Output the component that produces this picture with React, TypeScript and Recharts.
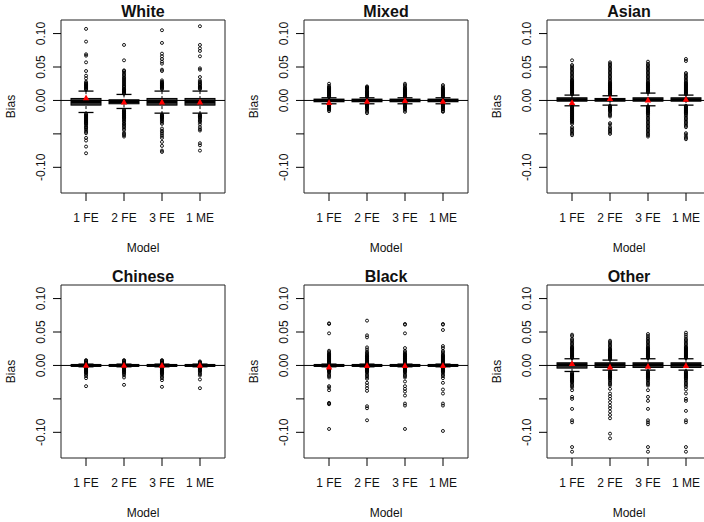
import React from 'react';
import { ComposedChart, Bar, Scatter, XAxis, YAxis, ReferenceLine, ReferenceArea } from 'recharts';

const models = ['1 FE', '2 FE', '3 FE', '1 ME'];
const yTicks = [-0.1, -0.05, 0, 0.05, 0.1];
const yDomain: [number, number] = [-0.1384, 0.1203];
const xDomain: [number, number] = [0.34, 4.66];

// each box: [lower whisker, q1, median, q3, upper whisker]
const whiteBoxes = [
  [-0.018, -0.007, -0.002, 0.003, 0.014],
  [-0.012, -0.005, -0.002, 0.001, 0.009],
  [-0.019, -0.007, -0.002, 0.003, 0.014],
  [-0.019, -0.007, -0.002, 0.003, 0.014],
];
const whiteMeans = [0.004, -0.002, -0.002, -0.002];
const whiteOut = [
  [0.107, 0.088, 0.069, 0.067, 0.057, 0.044, 0.037, 0.033, 0.028, 0.026, 0.025, 0.024, 0.023, 0.022, 0.021, 0.020, 0.019, 0.018, 0.017, 0.016,
   -0.020, -0.021, -0.022, -0.023, -0.024, -0.025, -0.026, -0.027, -0.028, -0.029, -0.030, -0.031, -0.032, -0.033, -0.034, -0.035, -0.036,
   -0.038, -0.040, -0.041, -0.043, -0.045, -0.047, -0.049, -0.056, -0.060, -0.069, -0.079],
  [0.083, 0.060, 0.045, 0.044, 0.042, 0.040, 0.038, 0.036, 0.034, 0.033, 0.031, 0.030, 0.028, 0.027, 0.025, 0.024, 0.022, 0.021, 0.020,
   0.018, 0.017, 0.016, 0.015, 0.014, 0.013, 0.012, 0.011, 0.010,
   -0.014, -0.015, -0.016, -0.017, -0.018, -0.019, -0.020, -0.021, -0.022, -0.023, -0.024, -0.025, -0.026, -0.027, -0.028, -0.030,
   -0.031, -0.033, -0.035, -0.036, -0.038, -0.040, -0.042, -0.044, -0.048, -0.050, -0.052, -0.054],
  [0.105, 0.086, 0.070, 0.066, 0.062, 0.058, 0.055, 0.046, 0.044, 0.030, 0.028, 0.027, 0.026, 0.025, 0.024, 0.023, 0.022, 0.021, 0.020,
   0.019, 0.018, 0.017,
   -0.021, -0.022, -0.023, -0.024, -0.025, -0.026, -0.027, -0.028, -0.030, -0.031, -0.033, -0.035, -0.042, -0.045, -0.047, -0.050,
   -0.053, -0.056, -0.062, -0.068, -0.075, -0.077],
  [0.111, 0.083, 0.078, 0.074, 0.066, 0.048, 0.046, 0.035, 0.030, 0.028, 0.027, 0.025, 0.024, 0.023, 0.021, 0.020, 0.019, 0.018, 0.017,
   -0.021, -0.022, -0.023, -0.024, -0.025, -0.026, -0.028, -0.030, -0.031, -0.033, -0.036, -0.040, -0.043, -0.045, -0.064, -0.067, -0.075],
];

const mixedBoxes = [
  [-0.005, -0.002, 0.0, 0.002, 0.004],
  [-0.005, -0.002, 0.0, 0.002, 0.004],
  [-0.005, -0.002, 0.0, 0.002, 0.004],
  [-0.005, -0.002, 0.0, 0.002, 0.004],
];
const mixedMeans = [-0.003, -0.001, 0.0, -0.001];
const mixedOut = [
  [0.025, 0.022, 0.020, 0.019, 0.018, 0.017, 0.016, 0.015, 0.014, 0.013, 0.012, 0.011, 0.010, 0.009, 0.008, 0.007, 0.006, 0.005,
   -0.006, -0.007, -0.008, -0.009, -0.010, -0.011, -0.012, -0.013, -0.014, -0.016],
  [0.021, 0.020, 0.019, 0.018, 0.017, 0.015, 0.014, 0.013, 0.012, 0.011, 0.010, 0.009, 0.008, 0.007, 0.006, 0.005,
   -0.006, -0.007, -0.008, -0.009, -0.010, -0.011, -0.012, -0.013, -0.015, -0.017, -0.019],
  [0.025, 0.023, 0.021, 0.019, 0.018, 0.017, 0.016, 0.015, 0.014, 0.013, 0.012, 0.011, 0.010, 0.009, 0.008, 0.007, 0.006, 0.005,
   -0.006, -0.007, -0.008, -0.009, -0.010, -0.011, -0.012, -0.013, -0.015, -0.017],
  [0.023, 0.021, 0.019, 0.018, 0.017, 0.016, 0.015, 0.014, 0.013, 0.012, 0.011, 0.010, 0.009, 0.008, 0.007, 0.006, 0.005,
   -0.006, -0.007, -0.008, -0.009, -0.010, -0.011, -0.012, -0.013, -0.014, -0.016, -0.017],
];

const asianBoxes = [
  [-0.008, -0.001, 0.001, 0.004, 0.008],
  [-0.007, -0.001, 0.001, 0.003, 0.007],
  [-0.008, -0.001, 0.001, 0.004, 0.011],
  [-0.007, -0.001, 0.001, 0.004, 0.008],
];
const asianMeans = [-0.003, 0.003, 0.001, 0.002];
const asianOut = [
  [0.060, 0.053, 0.051, 0.049, 0.047, 0.045, 0.043, 0.041, 0.039, 0.037, 0.035, 0.033, 0.031, 0.030, 0.029, 0.028, 0.027, 0.026, 0.025,
   0.024, 0.023, 0.022, 0.021, 0.020, 0.019, 0.018, 0.017, 0.016, 0.015, 0.014, 0.013, 0.012, 0.011, 0.010, 0.009,
   -0.009, -0.010, -0.011, -0.012, -0.013, -0.014, -0.015, -0.016, -0.017, -0.018, -0.019, -0.020, -0.021, -0.022, -0.023, -0.024,
   -0.025, -0.026, -0.027, -0.028, -0.029, -0.030, -0.031, -0.032, -0.033, -0.035, -0.040, -0.042, -0.044, -0.046, -0.048, -0.050, -0.052],
  [0.057, 0.055, 0.053, 0.051, 0.049, 0.047, 0.045, 0.043, 0.041, 0.039, 0.037, 0.035, 0.033, 0.031, 0.029, 0.027, 0.026, 0.025, 0.024,
   0.023, 0.022, 0.021, 0.020, 0.019, 0.018, 0.017, 0.016, 0.015, 0.014, 0.013, 0.012, 0.011, 0.010, 0.009, 0.008,
   -0.008, -0.009, -0.010, -0.011, -0.012, -0.013, -0.014, -0.015, -0.016, -0.018, -0.020, -0.022, -0.024, -0.034, -0.036, -0.040,
   -0.042, -0.044, -0.046, -0.048, -0.050],
  [0.058, 0.055, 0.053, 0.051, 0.049, 0.047, 0.045, 0.043, 0.041, 0.039, 0.037, 0.035, 0.033, 0.031, 0.029, 0.027, 0.026, 0.025, 0.024,
   0.023, 0.022, 0.021, 0.020, 0.019, 0.018, 0.017, 0.016, 0.015, 0.014, 0.013, 0.012,
   -0.009, -0.010, -0.011, -0.012, -0.013, -0.014, -0.015, -0.016, -0.017, -0.018, -0.019, -0.020, -0.022, -0.024, -0.026, -0.028,
   -0.030, -0.032, -0.034, -0.036, -0.038, -0.040, -0.042, -0.044, -0.046, -0.048, -0.050, -0.052, -0.054],
  [0.062, 0.059, 0.041, 0.039, 0.037, 0.035, 0.033, 0.031, 0.029, 0.027, 0.026, 0.025, 0.024, 0.023, 0.022, 0.021, 0.020, 0.019, 0.018,
   0.017, 0.016, 0.015, 0.014, 0.013, 0.012, 0.011, 0.010, 0.009,
   -0.008, -0.009, -0.010, -0.011, -0.012, -0.013, -0.014, -0.015, -0.016, -0.017, -0.018, -0.019, -0.020, -0.022, -0.024, -0.026,
   -0.028, -0.030, -0.032, -0.034, -0.036, -0.038, -0.040, -0.049, -0.051, -0.054, -0.056, -0.058],
];

const chineseBoxes = [
  [-0.002, -0.001, 0.0, 0.001, 0.002],
  [-0.002, -0.001, 0.0, 0.001, 0.002],
  [-0.002, -0.001, 0.0, 0.001, 0.002],
  [-0.002, -0.001, 0.0, 0.001, 0.002],
];
const chineseMeans = [0.0005, 0.0005, 0.0005, 0.0005];
const chineseOut = [
  [0.008, 0.007, 0.006, 0.005, 0.004, 0.003, -0.003, -0.004, -0.005, -0.006, -0.007, -0.008, -0.009, -0.010, -0.011, -0.012,
   -0.014, -0.016, -0.019, -0.031],
  [0.008, 0.007, 0.006, 0.005, 0.004, 0.003, -0.003, -0.004, -0.005, -0.006, -0.007, -0.008, -0.009, -0.010, -0.011, -0.013,
   -0.015, -0.018, -0.029],
  [0.008, 0.007, 0.006, 0.005, 0.004, 0.003, -0.003, -0.004, -0.005, -0.006, -0.007, -0.008, -0.009, -0.010, -0.011, -0.012,
   -0.013, -0.015, -0.017, -0.019, -0.022, -0.032],
  [0.006, 0.005, 0.004, 0.003, -0.003, -0.004, -0.005, -0.006, -0.007, -0.008, -0.009, -0.011, -0.013, -0.015, -0.021, -0.034],
];

const blackBoxes = [
  [-0.002, -0.001, 0.0, 0.001, 0.002],
  [-0.002, -0.001, 0.0, 0.001, 0.002],
  [-0.002, -0.001, 0.0, 0.001, 0.002],
  [-0.002, -0.001, 0.0, 0.001, 0.002],
];
const blackMeans = [-0.002, 0.0, 0.0, 0.0];
const blackOut = [
  [0.063, 0.062, 0.048, 0.022, 0.020, 0.018, 0.017, 0.016, 0.015, 0.014, 0.013, 0.012, 0.011, 0.010, 0.009, 0.008, 0.007, 0.006,
   0.005, 0.004, 0.003, -0.003, -0.004, -0.005, -0.006, -0.007, -0.008, -0.009, -0.010, -0.012, -0.014, -0.016, -0.018, -0.031,
   -0.033, -0.037, -0.056, -0.057, -0.058, -0.095],
  [0.067, 0.045, 0.042, 0.027, 0.024, 0.021, 0.019, 0.018, 0.016, 0.015, 0.014, 0.013, 0.012, 0.011, 0.010, 0.009, 0.008, 0.007,
   0.006, 0.005, 0.004, 0.003, -0.003, -0.004, -0.005, -0.006, -0.007, -0.008, -0.009, -0.010, -0.012, -0.014, -0.016, -0.018,
   -0.020, -0.026, -0.030, -0.034, -0.038, -0.061, -0.064, -0.082],
  [0.062, 0.061, 0.048, 0.026, 0.022, 0.020, 0.018, 0.017, 0.016, 0.015, 0.014, 0.013, 0.012, 0.011, 0.010, 0.009, 0.008, 0.007,
   0.006, 0.005, 0.004, 0.003, -0.003, -0.004, -0.005, -0.006, -0.007, -0.008, -0.009, -0.010, -0.012, -0.014, -0.016, -0.018,
   -0.024, -0.031, -0.035, -0.039, -0.045, -0.057, -0.060, -0.095],
  [0.062, 0.061, 0.053, 0.029, 0.026, 0.022, 0.020, 0.018, 0.016, 0.015, 0.014, 0.013, 0.012, 0.011, 0.010, 0.009, 0.008, 0.007,
   0.006, 0.005, 0.004, 0.003, -0.003, -0.004, -0.005, -0.006, -0.007, -0.008, -0.009, -0.010, -0.012, -0.014, -0.016, -0.019,
   -0.026, -0.036, -0.042, -0.057, -0.060, -0.098],
];

const otherBoxes = [
  [-0.009, -0.004, 0.001, 0.004, 0.010],
  [-0.007, -0.003, 0.001, 0.004, 0.008],
  [-0.007, -0.003, 0.001, 0.004, 0.010],
  [-0.007, -0.003, 0.001, 0.004, 0.010],
];
const otherMeans = [0.003, -0.002, -0.001, 0.0];
const otherOut = [
  [0.046, 0.044, 0.040, 0.038, 0.036, 0.034, 0.032, 0.030, 0.028, 0.027, 0.026, 0.025, 0.024, 0.023, 0.022, 0.021, 0.020, 0.019,
   0.018, 0.017, 0.016, 0.015, 0.014, 0.013, 0.012, 0.011,
   -0.011, -0.012, -0.013, -0.014, -0.015, -0.016, -0.017, -0.018, -0.019, -0.020, -0.021, -0.022, -0.023, -0.024, -0.025, -0.027,
   -0.029, -0.031, -0.033, -0.037, -0.047, -0.050, -0.065, -0.082, -0.085, -0.122, -0.129],
  [0.037, 0.035, 0.033, 0.031, 0.029, 0.027, 0.025, 0.024, 0.023, 0.022, 0.021, 0.020, 0.019, 0.018, 0.017, 0.016, 0.015, 0.014,
   0.013, 0.012, 0.011, 0.010, 0.009,
   -0.009, -0.010, -0.011, -0.012, -0.013, -0.014, -0.015, -0.016, -0.017, -0.018, -0.019, -0.020, -0.022, -0.024, -0.026, -0.028,
   -0.030, -0.035, -0.042, -0.046, -0.050, -0.055, -0.060, -0.064, -0.069, -0.074, -0.079, -0.102, -0.109],
  [0.047, 0.044, 0.041, 0.039, 0.037, 0.035, 0.033, 0.031, 0.029, 0.027, 0.026, 0.025, 0.024, 0.023, 0.022, 0.021, 0.020, 0.019,
   0.018, 0.017, 0.016, 0.015, 0.014, 0.013, 0.012, 0.011,
   -0.009, -0.010, -0.011, -0.012, -0.013, -0.014, -0.015, -0.016, -0.017, -0.018, -0.019, -0.020, -0.022, -0.024, -0.026, -0.028,
   -0.030, -0.037, -0.047, -0.053, -0.065, -0.082, -0.085, -0.088, -0.122, -0.129],
  [0.049, 0.046, 0.043, 0.040, 0.038, 0.036, 0.034, 0.032, 0.030, 0.028, 0.027, 0.026, 0.025, 0.024, 0.023, 0.022, 0.021, 0.020,
   0.019, 0.018, 0.017, 0.016, 0.015, 0.014, 0.013, 0.012, 0.011,
   -0.009, -0.010, -0.011, -0.012, -0.013, -0.014, -0.015, -0.016, -0.017, -0.018, -0.019, -0.020, -0.022, -0.024, -0.026, -0.028,
   -0.030, -0.032, -0.036, -0.042, -0.050, -0.053, -0.068, -0.082, -0.085, -0.122, -0.129],
];

const FONT = '"Liberation Sans", Arial, Helvetica, sans-serif';
const PANEL_W = 243;
const PANEL_H = 265;
const PLOT = { left: 61, top: 20, right: 225, bottom: 193 };

const XTick = (props: any) => {
  const { x, y, payload } = props;
  return (
    <text x={x} y={y + 19} textAnchor="middle" fontSize={12} fontFamily={FONT} fill="#111">
      {payload.value}
    </text>
  );
};

const YTick = (props: any) => {
  const { x, y, payload } = props;
  // R drops the -0.05 label because it would overlap its neighbours
  if (payload.value === -0.05) return null;
  const tx = x - 6;
  return (
    <text x={tx} y={y} transform={`rotate(-90 ${tx} ${y})`} textAnchor="middle" fontSize={12} fontFamily={FONT} fill="#111">
      {payload.value.toFixed(2)}
    </text>
  );
};

const Whisker = (props: any) => {
  const { x, y, width, height } = props;
  const cx = x + width / 2;
  return (
    <g>
      <line x1={cx} x2={cx} y1={y} y2={y + height} stroke="#000" strokeDasharray="3 2" />
      <line x1={cx - 7.5} x2={cx + 7.5} y1={y} y2={y} stroke="#000" strokeWidth={1.3} />
      <line x1={cx - 7.5} x2={cx + 7.5} y1={y + height} y2={y + height} stroke="#000" strokeWidth={1.3} />
    </g>
  );
};

const BoxShape = (props: any) => {
  const { x, y, width, height } = props;
  return <rect x={x} y={y} width={width} height={height} fill="#3c3c3c" stroke="#000" strokeWidth={1} />;
};

const MedianShape = (props: any) => {
  const { cx, cy } = props;
  return <line x1={cx - 15} x2={cx + 15} y1={cy} y2={cy} stroke="#000" strokeWidth={3} />;
};

const OutShape = (props: any) => {
  const { cx, cy } = props;
  return <circle cx={cx} cy={cy} r={1.5} fill="none" stroke="#000" strokeWidth={0.9} />;
};

const MeanShape = (props: any) => {
  const { cx, cy } = props;
  return <polygon points={`${cx - 3.2},${cy + 2.6} ${cx + 3.2},${cy + 2.6} ${cx},${cy - 3.2}`} fill="#ff0000" />;
};

interface PanelProps {
  title: string;
  boxes: number[][];
  means: number[];
  outliers: number[][];
  left: number;
  top: number;
}

const Panel = ({ title, boxes, means, outliers, left, top }: PanelProps) => {
  const rows = models.map((m, i) => ({
    model: m,
    whisk: [boxes[i][0], boxes[i][4]],
    box: [boxes[i][1], boxes[i][3]],
  }));
  const medians = boxes.map((b, i) => ({ x: i + 1, y: b[2] }));
  const meanPts = means.map((v, i) => ({ x: i + 1, y: v }));
  const outPts = outliers.flatMap((arr, i) => arr.map((v) => ({ x: i + 1, y: v })));
  const midX = (PLOT.left + PLOT.right) / 2;
  const midY = (PLOT.top + PLOT.bottom) / 2;

  return (
    <div style={{ position: 'absolute', left, top, width: PANEL_W, height: PANEL_H }}>
      <ComposedChart
        width={PANEL_W}
        height={PANEL_H}
        data={rows}
        margin={{ top: PLOT.top, right: PANEL_W - PLOT.right, bottom: PANEL_H - PLOT.bottom - 40, left: 0 }}
        barGap={-30}
      >
        <XAxis
          dataKey="model"
          type="category"
          padding={{ left: 6, right: 6 }}
          axisLine={false}
          tickLine={{ stroke: '#000' }}
          tickSize={8}
          tick={<XTick />}
          interval={0}
          height={40}
        />
        <XAxis xAxisId="pts" dataKey="x" type="number" domain={xDomain} allowDataOverflow hide />
        <YAxis
          type="number"
          domain={yDomain}
          ticks={yTicks}
          allowDataOverflow
          width={PLOT.left}
          axisLine={false}
          tickLine={{ stroke: '#000' }}
          tickSize={8}
          tick={<YTick />}
          interval={0}
        />
        <ReferenceArea
          xAxisId="pts"
          x1={xDomain[0]}
          x2={xDomain[1]}
          y1={yDomain[0]}
          y2={yDomain[1]}
          fill="none"
          fillOpacity={0}
          stroke="#222"
          strokeWidth={1}
          ifOverflow="visible"
        />
        <Bar dataKey="whisk" barSize={30} shape={<Whisker />} isAnimationActive={false} />
        <Bar dataKey="box" barSize={30} shape={<BoxShape />} isAnimationActive={false} />
        <Scatter xAxisId="pts" data={medians} dataKey="y" shape={<MedianShape />} isAnimationActive={false} />
        <Scatter xAxisId="pts" data={outPts} dataKey="y" shape={<OutShape />} isAnimationActive={false} />
        <ReferenceLine y={0} stroke="#000" strokeWidth={1} />
        <Scatter xAxisId="pts" data={meanPts} dataKey="y" shape={<MeanShape />} isAnimationActive={false} />
      </ComposedChart>
      <svg
        width={PANEL_W}
        height={PANEL_H}
        style={{ position: 'absolute', left: 0, top: 0, pointerEvents: 'none' }}
        fontFamily={FONT}
      >
        <text x={midX} y={16.5} textAnchor="middle" fontSize={16} fontWeight="bold" fill="#111">
          {title}
        </text>
        <text x={midX} y={252} textAnchor="middle" fontSize={12} fill="#111">
          Model
        </text>
        <text x={15} y={midY} transform={`rotate(-90 15 ${midY})`} textAnchor="middle" fontSize={12} fill="#111">
          Bias
        </text>
      </svg>
    </div>
  );
};

const panels = [
  { title: 'White', boxes: whiteBoxes, means: whiteMeans, outliers: whiteOut },
  { title: 'Mixed', boxes: mixedBoxes, means: mixedMeans, outliers: mixedOut },
  { title: 'Asian', boxes: asianBoxes, means: asianMeans, outliers: asianOut },
  { title: 'Chinese', boxes: chineseBoxes, means: chineseMeans, outliers: chineseOut },
  { title: 'Black', boxes: blackBoxes, means: blackMeans, outliers: blackOut },
  { title: 'Other', boxes: otherBoxes, means: otherMeans, outliers: otherOut },
];

export default function App() {
  return (
    <div
      style={{
        position: 'absolute',
        left: 0,
        top: 0,
        width: 704,
        height: 522,
        overflow: 'hidden',
        background: '#fff',
        fontFamily: FONT,
      }}
    >
      {panels.map((p, i) => (
        <Panel key={p.title} {...p} left={(i % 3) * PANEL_W} top={Math.floor(i / 3) * PANEL_H} />
      ))}
    </div>
  );
}
